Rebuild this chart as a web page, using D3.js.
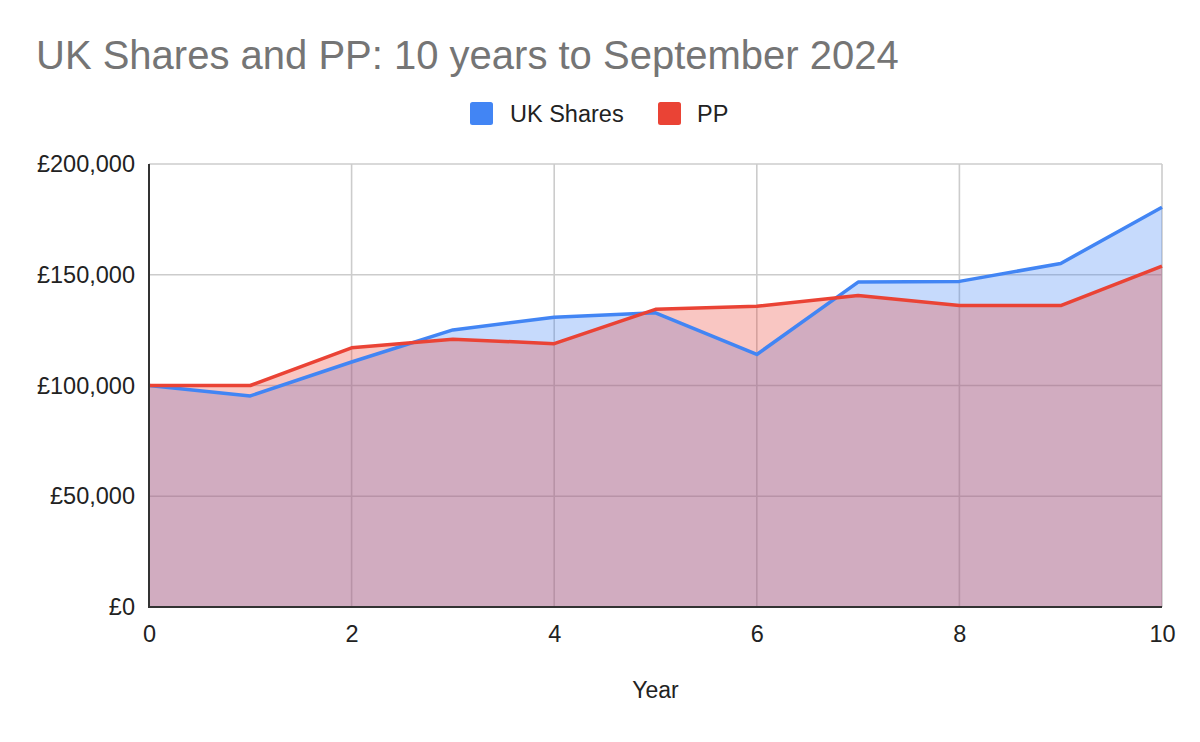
<!DOCTYPE html>
<html>
<head>
<meta charset="utf-8">
<script src="https://cdn.jsdelivr.net/npm/d3@7"></script>
<style>
  html, body { margin: 0; padding: 0; background: #fff; }
  svg { display: block; font-family: "Liberation Sans", Arial, Helvetica, sans-serif; }
</style>
</head>
<body>
<svg id="chart" width="1200" height="742"></svg>
<script>
const years = [0, 1, 2, 3, 4, 5, 6, 7, 8, 9, 10];
const ukShares = [100000, 95300, 110600, 125100, 130800, 132800, 114000, 146700, 147000, 155100, 180500];
const pp = [100000, 100000, 117000, 120900, 118900, 134400, 135800, 140600, 136100, 136100, 153900];
const seriesNames = ["UK Shares", "PP"];
const seriesColors = ["#4285F4", "#EA4335"];
const xTicks = [0, 2, 4, 6, 8, 10];
const yTicks = [0, 50000, 100000, 150000, 200000];
const titleText = "UK Shares and PP: 10 years to September 2024";
const xAxisTitle = "Year";

const svg = d3.select("#chart");
const margin = { left: 149, right: 1200 - 1162, top: 164, bottom: 742 - 607 };
const x = d3.scaleLinear().domain([0, 10]).range([149, 1162]);
const y = d3.scaleLinear().domain([0, 200000]).range([607, 164]);
const fmt = v => "£" + d3.format(",")(v);

// title
svg.append("text")
  .attr("x", 36).attr("y", 69)
  .attr("fill", "#757575")
  .attr("font-size", 40)
  .text(titleText);

// legend
const legendItems = [
  { name: seriesNames[0], color: seriesColors[0], sx: 470, tx: 510 },
  { name: seriesNames[1], color: seriesColors[1], sx: 658, tx: 697 }
];
legendItems.forEach(d => {
  svg.append("rect").attr("x", d.sx).attr("y", 102).attr("width", 23).attr("height", 23)
    .attr("rx", 2.5).attr("fill", d.color);
  svg.append("text").attr("x", d.tx).attr("y", 122).attr("font-size", 23.5)
    .attr("fill", "#222").text(d.name);
});

// gridlines
const grid = svg.append("g");
grid.selectAll("line.h").data(yTicks).join("line")
  .attr("x1", x(0)).attr("x2", x(10))
  .attr("y1", d => y(d)).attr("y2", d => y(d))
  .attr("stroke", "#cccccc").attr("stroke-width", 1.6);
grid.selectAll("line.v").data(xTicks).join("line")
  .attr("x1", d => x(d)).attr("x2", d => x(d))
  .attr("y1", y(0)).attr("y2", y(200000))
  .attr("stroke", "#cccccc").attr("stroke-width", 1.6);

// areas
const area = vals => d3.area().x((d, i) => x(years[i])).y0(y(0)).y1(d => y(d))(vals);
const line = vals => d3.line().x((d, i) => x(years[i])).y(d => y(d))(vals);
[ukShares, pp].forEach((vals, k) => {
  svg.append("path").attr("d", area(vals)).attr("fill", seriesColors[k]).attr("fill-opacity", 0.3);
});
[ukShares, pp].forEach((vals, k) => {
  svg.append("path").attr("d", line(vals)).attr("fill", "none")
    .attr("stroke", seriesColors[k]).attr("stroke-width", 3.5)
    .attr("stroke-linejoin", "round");
});

// axis lines
svg.append("line").attr("x1", x(0)).attr("x2", x(10)).attr("y1", y(0)).attr("y2", y(0))
  .attr("stroke", "#333").attr("stroke-width", 2);
svg.append("line").attr("x1", x(0)).attr("x2", x(0)).attr("y1", y(0) + 1).attr("y2", y(200000))
  .attr("stroke", "#333").attr("stroke-width", 2);

// y tick labels
const yAxis = d3.axisLeft(y).tickValues(yTicks).tickFormat(fmt).tickSize(0).tickPadding(14);
const gy = svg.append("g").attr("transform", `translate(${x(0)},0)`).call(yAxis);
gy.select(".domain").remove();
gy.selectAll("text").attr("font-size", 23.5).attr("fill", "#222")
  .attr("font-family", "Liberation Sans, Arial, sans-serif");

// x tick labels
const xAxis = d3.axisBottom(x).tickValues(xTicks).tickFormat(d3.format("d")).tickSize(0).tickPadding(18);
const gx = svg.append("g").attr("transform", `translate(0,${y(0)})`).call(xAxis);
gx.select(".domain").remove();
gx.selectAll("text").attr("font-size", 23.5).attr("fill", "#222")
  .attr("font-family", "Liberation Sans, Arial, sans-serif");

// x axis title
svg.append("text").attr("x", (x(0) + x(10)) / 2).attr("y", 698)
  .attr("text-anchor", "middle").attr("font-size", 23).attr("fill", "#222")
  .text(xAxisTitle);
</script>
</body>
</html>
